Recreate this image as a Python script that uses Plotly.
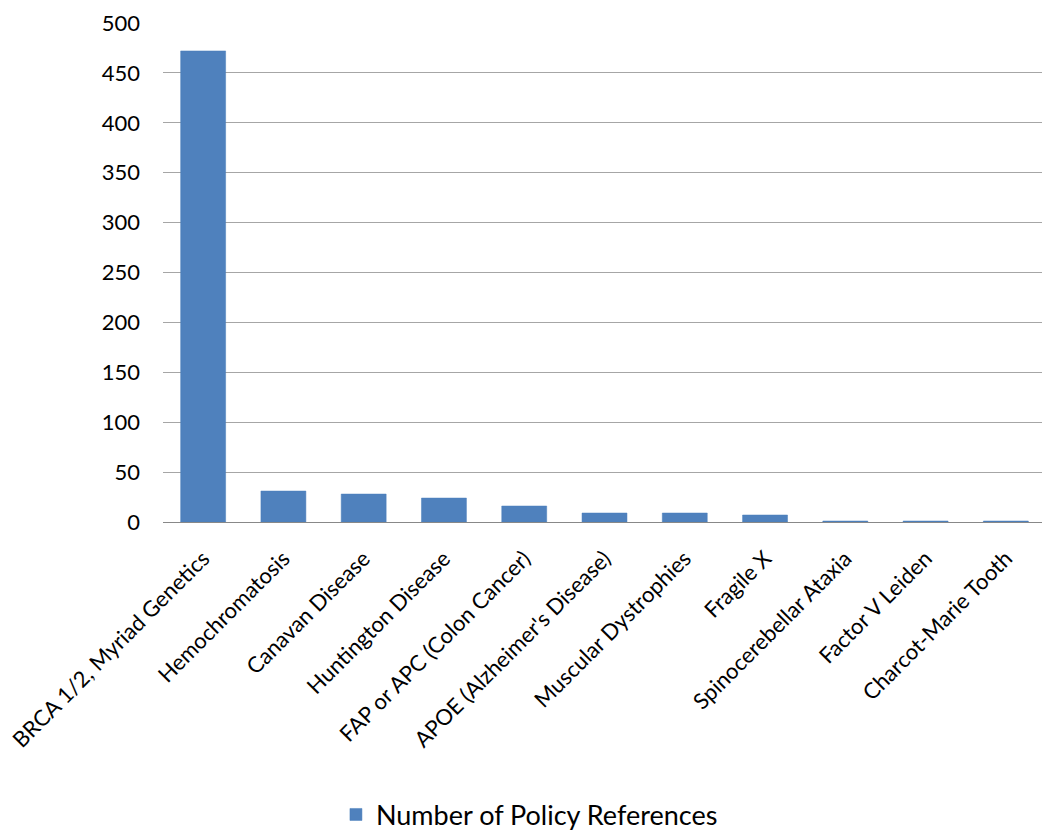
import plotly.graph_objects as go

categories = ["BRCA 1/2, Myriad Genetics", "Hemochromatosis", "Canavan Disease",
              "Huntington Disease", "FAP or APC (Colon Cancer)", "APOE (Alzheimer's Disease)",
              "Muscular Dystrophies", "Fragile X", "Spinocerebellar Ataxia",
              "Factor V Leiden", "Charcot-Marie Tooth"]
values = [472, 31, 28, 24, 16, 9, 9, 7, 1, 1, 1]
series_name = "Number of Policy References"
y_ticks = [0, 50, 100, 150, 200, 250, 300, 350, 400, 450, 500]

font_family = "Lato, 'Open Sans', 'DejaVu Sans', sans-serif"

fig = go.Figure()
fig.add_trace(go.Bar(
    x=categories, y=values, name=series_name,
    marker=dict(color="#4F81BD", line=dict(color="#4A7EBB", width=0.5)),
    showlegend=True,
))

fig.update_layout(
    width=1050, height=840,
    margin=dict(l=155, r=12, t=15, b=326, autoexpand=False),
    plot_bgcolor="white", paper_bgcolor="white",
    bargap=0.44,
    font=dict(family=font_family, size=22, color="black"),
    xaxis=dict(tickangle=-45, showline=True, linecolor="#888888", linewidth=1,
               ticks="", tickfont=dict(size=22), ticklabelstandoff=14, automargin=False),
    yaxis=dict(range=[0, 500], tickvals=y_ticks, showgrid=True, gridcolor="#A6A6A6",
               gridwidth=1, zeroline=False, showline=False, ticks="",
               tickfont=dict(size=22), ticklabelstandoff=22, automargin=False),
    legend=dict(orientation="h", x=0.415, xanchor="center", y=-0.587, yanchor="middle",
                font=dict(size=27)),
)

fig.write_html("out.html")
